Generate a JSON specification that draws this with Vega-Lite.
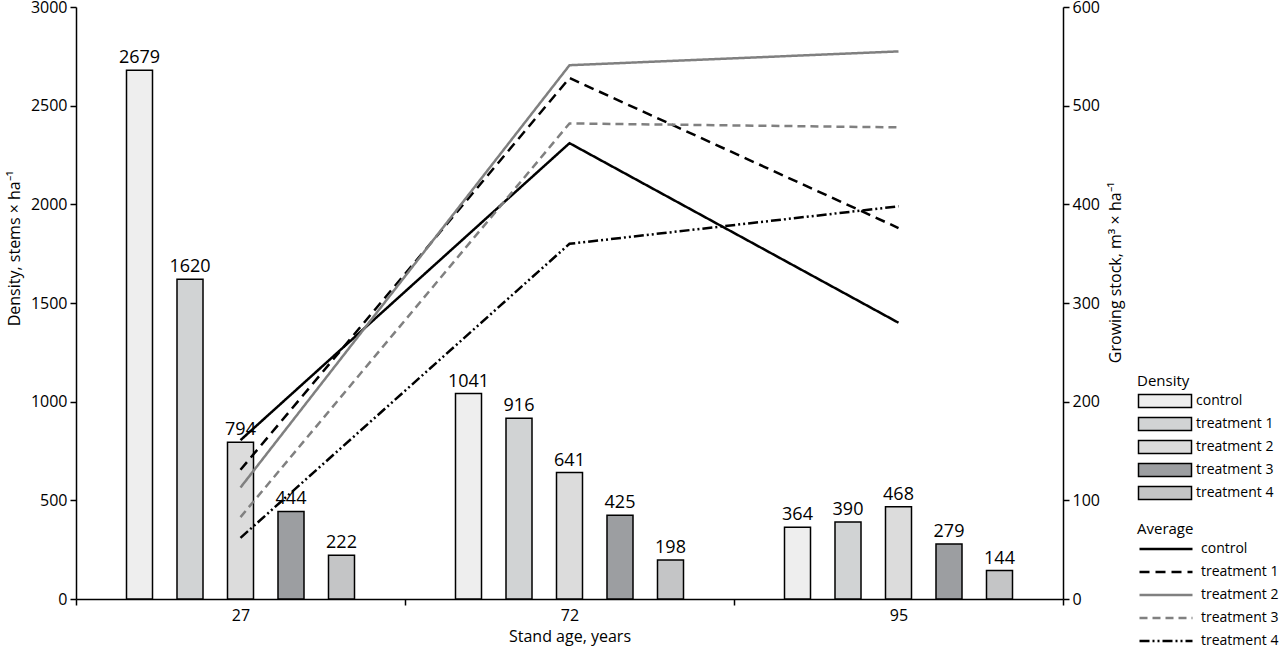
{
  "$schema": "https://vega.github.io/schema/vega-lite/v6.json",
  "width": 987,
  "height": 592,
  "autosize": {"type": "none"},
  "padding": {"left": 76, "top": 7, "right": 217, "bottom": 53},
  "background": "white",
  "config": {
    "font": "Open Sans",
    "view": {"stroke": null},
    "axis": {
      "grid": false,
      "domainColor": "black",
      "domainWidth": 1.5,
      "tickColor": "black",
      "tickWidth": 1.5,
      "tickSize": 6,
      "labelColor": "black",
      "titleColor": "black",
      "labelFontSize": 16,
      "titleFontSize": 16,
      "titleFontWeight": "normal",
      "labelFont": "Open Sans",
      "titleFont": "Open Sans"
    },
    "legend": {
      "padding": 0,
      "labelFontSize": 14,
      "titleFontSize": 15,
      "titleFontWeight": "normal",
      "labelColor": "black",
      "titleColor": "black",
      "labelFont": "Open Sans",
      "titleFont": "Open Sans"
    }
  },
  "datasets": {
    "bars": [
      {"age": "27", "treatment": "control", "density": 2679},
      {"age": "27", "treatment": "treatment 1", "density": 1620},
      {"age": "27", "treatment": "treatment 2", "density": 794},
      {"age": "27", "treatment": "treatment 3", "density": 444},
      {"age": "27", "treatment": "treatment 4", "density": 222},
      {"age": "72", "treatment": "control", "density": 1041},
      {"age": "72", "treatment": "treatment 1", "density": 916},
      {"age": "72", "treatment": "treatment 2", "density": 641},
      {"age": "72", "treatment": "treatment 3", "density": 425},
      {"age": "72", "treatment": "treatment 4", "density": 198},
      {"age": "95", "treatment": "control", "density": 364},
      {"age": "95", "treatment": "treatment 1", "density": 390},
      {"age": "95", "treatment": "treatment 2", "density": 468},
      {"age": "95", "treatment": "treatment 3", "density": 279},
      {"age": "95", "treatment": "treatment 4", "density": 144}
    ],
    "lines": [
      {"age": "27", "series": "control", "stock": 161},
      {"age": "72", "series": "control", "stock": 462},
      {"age": "95", "series": "control", "stock": 280},
      {"age": "27", "series": "treatment 1", "stock": 131},
      {"age": "72", "series": "treatment 1", "stock": 528},
      {"age": "95", "series": "treatment 1", "stock": 376},
      {"age": "27", "series": "treatment 2", "stock": 113},
      {"age": "72", "series": "treatment 2", "stock": 541},
      {"age": "95", "series": "treatment 2", "stock": 555},
      {"age": "27", "series": "treatment 3", "stock": 83},
      {"age": "72", "series": "treatment 3", "stock": 482},
      {"age": "95", "series": "treatment 3", "stock": 478},
      {"age": "27", "series": "treatment 4", "stock": 62},
      {"age": "72", "series": "treatment 4", "stock": 360},
      {"age": "95", "series": "treatment 4", "stock": 398}
    ]
  },
  "layer": [
    {
      "data": {"name": "bars"},
      "encoding": {
        "x": {
          "field": "age",
          "type": "nominal",
          "scale": {"paddingInner": 0, "paddingOuter": 0},
          "axis": {"title": "Stand age, years", "labelAngle": 0, "tickBand": "extent", "labelPadding": 2, "titlePadding": 5}
        },
        "xOffset": {
          "field": "treatment",
          "type": "nominal",
          "scale": {"paddingInner": 0.485, "paddingOuter": 1.0}
        },
        "y": {
          "field": "density",
          "type": "quantitative",
          "scale": {"domain": [0, 3000], "nice": false},
          "axis": {
            "title": "Density,  stems × ha⁻¹",
            "values": [0, 500, 1000, 1500, 2000, 2500, 3000],
            "format": "d",
            "labelPadding": 3,
            "titlePadding": 8,
            "titleY": 241
          }
        }
      },
      "layer": [
        {
          "mark": {"type": "bar", "stroke": "black", "strokeWidth": 1.5},
          "encoding": {
            "fill": {
              "field": "treatment",
              "type": "nominal",
              "scale": {
                "domain": ["control", "treatment 1", "treatment 2", "treatment 3", "treatment 4"],
                "range": ["#eeeeee", "#d1d3d4", "#dcdcdc", "#9c9ea1", "#c4c5c6"]
              },
              "legend": {
                "title": "Density",
                "orient": "none",
                "legendX": 1061,
                "legendY": 367,
                "symbolType": "M-5.3,-1.3H5.3V1.3H-5.3Z",
                "symbolSize": 100,
                "symbolStrokeColor": "black",
                "symbolStrokeWidth": 1.5,
                "symbolOpacity": 1,
                "symbolOffset": 21,
                "rowPadding": 3,
                "titlePadding": 5,
                "labelOffset": 24
              }
            }
          }
        },
        {
          "mark": {"type": "text", "baseline": "bottom", "dy": -3, "fontSize": 18, "color": "black", "font": "Open Sans"},
          "encoding": {
            "text": {"field": "density", "type": "quantitative", "format": "d"}
          }
        }
      ]
    },
    {
      "data": {"name": "lines"},
      "mark": {"type": "line", "strokeWidth": 2.5},
      "encoding": {
        "x": {"field": "age", "type": "nominal", "axis": {"title": "Stand age, years", "labelAngle": 0, "tickBand": "extent", "labelPadding": 2, "titlePadding": 5}},
        "y": {
          "field": "stock",
          "type": "quantitative",
          "scale": {"domain": [0, 600], "nice": false},
          "axis": {
            "orient": "right",
            "title": "Growing stock, m³ × ha⁻¹",
            "values": [0, 100, 200, 300, 400, 500, 600],
            "format": "d",
            "titleAngle": 270,
            "titleBaseline": "top",
            "titlePadding": 8,
            "titleY": 265,
            "labelPadding": 3
          }
        },
        "stroke": {
          "field": "series",
          "type": "nominal",
          "scale": {
            "range": ["#000000", "#000000", "#808080", "#808080", "#000000"]
          },
          "legend": {
            "title": "Average",
            "orient": "none",
            "legendX": 1061,
            "legendY": 515,
            "symbolType": "M-5.3,0H5.3",
            "symbolSize": 100,
            "symbolStrokeWidth": 2.5,
            "symbolOffset": 22,
            "rowPadding": 9,
            "titlePadding": 5,
            "labelOffset": 28
          }
        },
        "strokeDash": {
          "field": "series",
          "type": "nominal",
          "scale": {
            "range": [[1, 0], [10, 6], [1, 0], [8, 5], [10, 3, 2, 3, 2, 3]]
          },
          "legend": {
            "title": "Average",
            "orient": "none",
            "legendX": 1061,
            "legendY": 515,
            "symbolType": "M-5.3,0H5.3",
            "symbolSize": 100,
            "symbolStrokeWidth": 2.5,
            "symbolOffset": 22,
            "rowPadding": 9,
            "titlePadding": 5,
            "labelOffset": 28
          }
        }
      }
    }
  ],
  "resolve": {"scale": {"y": "independent"}}
}
